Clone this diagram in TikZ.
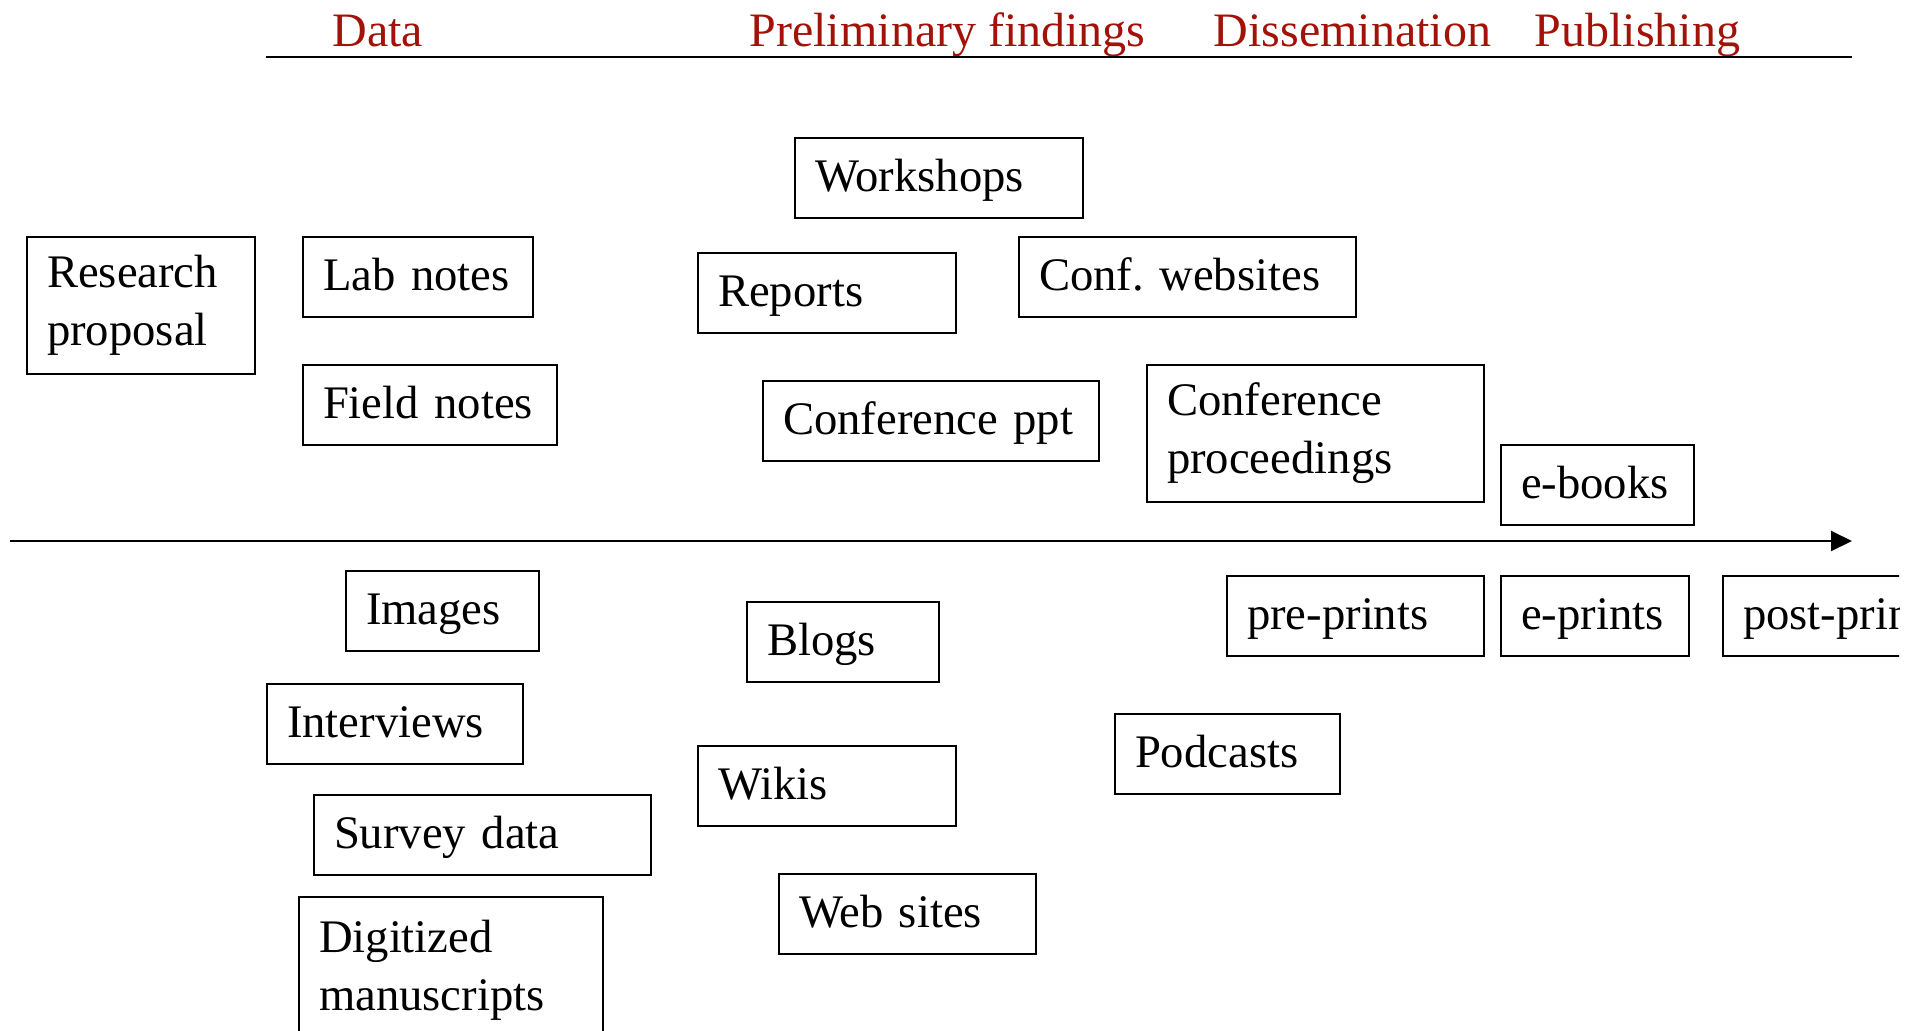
\documentclass[tikz,border=0pt]{standalone}
\usepackage{fontspec}
\setmainfont{Liberation Serif}
\usepackage{xcolor}
\usepackage{tikz}
\usetikzlibrary{arrows.meta}
\definecolor{stagered}{HTML}{A31208}

\begin{document}
\begin{tikzpicture}[
   x=0.3pt, y=-0.3pt,
   card/.style={draw, line width=0.6pt, anchor=north west, align=left,
     inner xsep=6pt, inner ysep=0pt, minimum height=24pt,
     font=\fontsize{14}{17.4}\selectfont},
   oneline/.style={card, text height=10.5pt, text depth=2.4pt},
   twoline/.style={card, minimum height=41.1pt},
   stage/.style={anchor=base west, inner sep=0pt, text=stagered,
     font=\fontsize{14.4}{17}\selectfont}
]
\useasboundingbox (0,0) rectangle (1919,1031);
\clip (0,0) rectangle (1899,1031);

\node[stage] (data) at (332,46) {Data};
\node[stage] (prelim) at (749,46) {Preliminary findings};
\node[stage] (dissem) at (1213,46) {Dissemination};
\node[stage] (publish) at (1534,46) {Publishing};

\coordinate (rulestart) at (266,57);
\coordinate (ruleend) at (1852,57);
\coordinate (timestart) at (10,541);
\coordinate (timeend) at (1852,541);
\draw[line width=0.6pt] (rulestart) -- (ruleend);
\draw[line width=0.6pt, -{Triangle[length=6.3pt,width=6pt]}] (timestart) -- (timeend);

\node[twoline, text width=56.4pt] (proposal) at (26,236) {Research\\proposal};
\node[oneline, text width=57pt] (labnotes) at (302,236) {Lab notes};
\node[oneline, text width=64.2pt] (fieldnotes) at (302,364) {Field notes};
\node[oneline, text width=74.4pt] (workshops) at (794,137) {Workshops};
\node[oneline, text width=65.4pt] (reports) at (697,252) {Reports};
\node[oneline, text width=89.1pt] (confweb) at (1018,236) {Conf.\ websites};
\node[oneline, text width=88.8pt] (confppt) at (762,380) {Conference ppt};
\node[twoline, text width=89.1pt] (proceedings) at (1146,364) {Conference\\proceedings};
\node[oneline, text width=45.9pt] (ebooks) at (1500,444) {e-books};

\node[oneline, text width=45.9pt] (images) at (345,570) {Images};
\node[oneline, text width=45.6pt] (blogs) at (746,601) {Blogs};
\node[oneline, text width=64.8pt] (interviews) at (266,683) {Interviews};
\node[oneline, text width=65.4pt] (wikis) at (697,745) {Wikis};
\node[oneline, text width=89.1pt] (survey) at (313,794) {Survey data};
\node[oneline, text width=65.1pt] (websites) at (778,873) {Web sites};
\node[twoline, text width=79.2pt, minimum height=44pt] (digitized) at (298,896) {Digitized\\manuscripts};
\node[oneline, text width=65.1pt] (preprints) at (1226,575) {pre-prints};
\node[oneline, text width=44.4pt] (eprints) at (1500,575) {e-prints};
\node[oneline, text width=65.1pt] (postprints) at (1722,575) {post-prints};
\node[oneline, text width=55.5pt] (podcasts) at (1114,713) {Podcasts};
\end{tikzpicture}
\end{document}
